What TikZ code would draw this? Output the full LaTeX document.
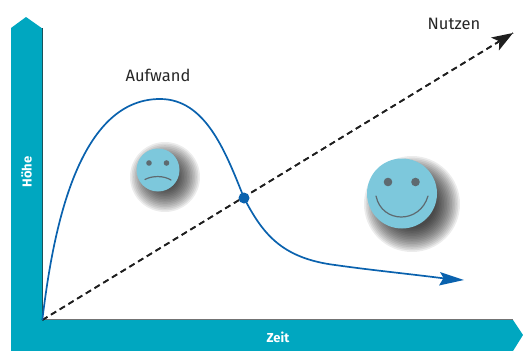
\documentclass[tikz,border=0pt]{standalone}
\usepackage{fontspec}
\setmainfont{Fira Sans}
\usetikzlibrary{arrows.meta,bending}
\definecolor{barteal}{HTML}{00A7C0}
\definecolor{faceblue}{HTML}{7DC8DC}
\definecolor{featgray}{HTML}{5E6A70}
\definecolor{curveblue}{HTML}{0A62AE}
\tikzset{
  barshape/.style={fill=barteal,draw=none},
  barlabel/.style={text=white,font=\bfseries\fontsize{13}{13}\selectfont,inner sep=0pt},
  curvelabel/.style={text=black!85,font=\fontsize{16.5}{18}\selectfont,inner sep=0pt},
  usefullinestyle/.style={draw=black!88,line width=1.7pt,dash pattern=on 6pt off 4.2pt},
  curvestyle/.style={draw=curveblue,line width=1.7pt},
  featstroke/.style={draw=featgray,line width=1.2pt,line cap=round},
  facedisc/.style={fill=faceblue,draw=none},
}
\newcommand{\softshadow}[3]{%
  \foreach \k in {0,...,15}{
    \fill[black,opacity=0.075] (#1,#2) circle ({#3+13-\k*1.6});
  }}
\begin{document}
\begin{tikzpicture}[x=1pt,y=-1pt]
\useasboundingbox (0,0) rectangle (523,351);
% axes
\coordinate (origin) at (42.3,320);
\coordinate (nutztip) at (513,33);
\coordinate (aufwtip) at (464,280);
\draw[black!85,line width=1.2pt] (42.8,28) -- (42.8,320);
\draw[black!55,line width=1.2pt] (42,319.6) -- (513,319.6);
\fill[barshape] (11,28) -- (26,17) -- (42.3,28.5) -- (42.3,320) -- (513,320) -- (523,335) -- (513,351) -- (11,351) -- cycle;
\node[barlabel,rotate=90] (hoehe) at (26.5,172) {Höhe};
\node[barlabel] (zeit) at (278,337) {Zeit};
% dashed line
\path[usefullinestyle] (origin) -- (nutztip) coordinate[pos=0] (dummy);
\draw[usefullinestyle,-{Stealth[length=21pt,width=15pt,inset=5pt,sep=0pt]},shorten >=0pt] (origin) -- (nutztip);
% blue curve
\coordinate (cross) at (244,198);
\draw[curvestyle] (origin) .. controls (52,240) and (75,99) .. (160,99)
   .. controls (205,99) and (225,150) .. (cross)
   .. controls (262,232) and (280,258) .. (335,265)
   .. controls (370,270) and (410,274) .. (445,278.5);
\fill[curveblue] (aufwtip) -- (439,285.5) -- (443.5,278) -- (440,272) -- cycle;
\node[circle,fill=curveblue,minimum size=11pt,inner sep=0pt] (crossdot) at (cross) {};
% labels
\node[curvelabel] (nutzen) at (454,24) {Nutzen};
\node[curvelabel] (aufwand) at (158,75) {Aufwand};
% sad face
\softshadow{165}{177}{22}
\fill[facedisc] (158,170) circle (21.5);
\fill[featgray] (149,163) circle (2.8);
\fill[featgray] (166.5,163) circle (2.8);
\draw[featstroke] (145,179.5) .. controls (152,175.5) and (164,175.5) .. (171,180);
% happy face
\softshadow{412}{204}{35}
\fill[facedisc] (402,193.5) circle (35);
\fill[featgray] (388,182) circle (4.3);
\fill[featgray] (415.5,182) circle (4.3);
\draw[featstroke] (376,196) .. controls (382,224) and (420,224) .. (428,196);
\end{tikzpicture}
\end{document}
